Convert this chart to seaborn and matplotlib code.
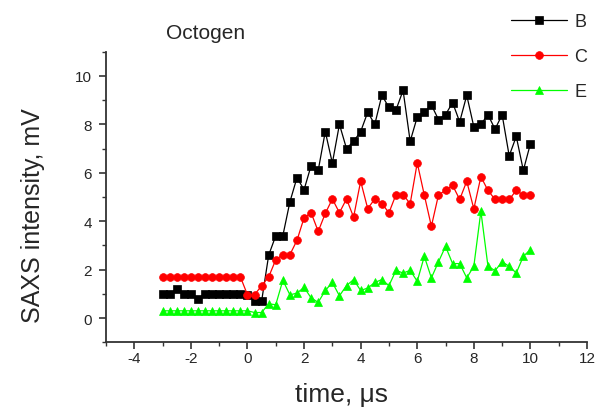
import matplotlib
matplotlib.use("Agg")
import matplotlib.pyplot as plt
import seaborn as sns
import pandas as pd
from matplotlib.ticker import MultipleLocator

time_us = [-3.0, -2.75, -2.5, -2.25, -2.0, -1.75, -1.5, -1.25, -1.0, -0.75, -0.5, -0.25,
           0.0, 0.25, 0.5, 0.75, 1.0, 1.25, 1.5, 1.75, 2.0, 2.25, 2.5, 2.75, 3.0,
           3.25, 3.5, 3.75, 4.0, 4.25, 4.5, 4.75, 5.0, 5.25, 5.5, 5.75, 6.0,
           6.25, 6.5, 6.75, 7.0, 7.25, 7.5, 7.75, 8.0, 8.25, 8.5, 8.75, 9.0,
           9.25, 9.5, 9.75, 10.0]

series_B = [1.0, 1.0, 1.2, 1.0, 1.0, 0.8, 1.0, 1.0, 1.0, 1.0, 1.0, 1.0,
            0.95, 0.7, 0.7, 2.6, 3.4, 3.4, 4.8, 5.8, 5.3, 6.3, 6.1, 7.7, 6.4,
            8.0, 7.0, 7.3, 7.7, 8.5, 8.0, 9.2, 8.7, 8.6, 9.4, 7.3, 8.3,
            8.5, 8.8, 8.2, 8.4, 8.9, 8.1, 9.2, 7.9, 8.0, 8.4, 7.8, 8.4,
            6.7, 7.5, 6.1, 7.2]

series_C = [1.7, 1.7, 1.7, 1.7, 1.7, 1.7, 1.7, 1.7, 1.7, 1.7, 1.7, 1.7,
            0.96, 0.96, 1.34, 1.70, 2.41, 2.62, 2.62, 3.21, 4.14, 4.35, 3.58, 4.32, 4.92,
            4.35, 4.92, 4.17, 5.65, 4.52, 4.92, 4.73, 4.35, 5.10, 5.10, 4.72, 6.41,
            5.08, 3.79, 5.08, 5.28, 5.48, 4.90, 5.65, 4.51, 5.84, 5.27, 4.90, 4.90,
            4.90, 5.27, 5.08, 5.08]

series_E = [0.3, 0.3, 0.3, 0.3, 0.3, 0.3, 0.3, 0.3, 0.3, 0.3, 0.3, 0.3,
            0.3, 0.23, 0.23, 0.59, 0.55, 1.56, 0.96, 1.03, 1.27, 0.83, 0.65, 1.14, 1.47,
            0.92, 1.34, 1.59, 1.14, 1.24, 1.47, 1.59, 1.34, 1.97, 1.86, 1.97, 1.52,
            2.55, 1.66, 2.32, 2.96, 2.25, 2.25, 1.66, 2.14, 4.41, 2.14, 1.96, 2.32,
            2.14, 1.86, 2.55, 2.83]

series_names = ["B", "C", "E"]
title_text = "Octogen"
x_label = "time, \u03bcs"
y_label = "SAXS intensity, mV"

sns.set_style("ticks")
plt.rcParams["font.family"] = ["Liberation Sans", "DejaVu Sans"]
plt.rcParams["axes.unicode_minus"] = False

fig = plt.figure(figsize=(5.97, 4.14), dpi=100)
ax = fig.add_axes([106 / 597, 1 - 343.3 / 414, (587 - 106) / 597, (343.3 - 52.7) / 414])

styles = [
    dict(color="black", marker="s", markersize=5.2),
    dict(color="#ff0000", marker="o", markersize=5.6),
    dict(color="#00ff00", marker="^", markersize=6.2),
]
for name, vals, st in zip(series_names, [series_B, series_C, series_E], styles):
    df = pd.DataFrame({"time": time_us, "val": vals})
    sns.lineplot(data=df, x="time", y="val", ax=ax, color=st["color"], marker=st["marker"],
                 markersize=st["markersize"], markeredgecolor=st["color"], markeredgewidth=0.5,
                 linewidth=0.9, estimator=None, sort=False, label=name)

ax.set_xlim(-5, 12)
ax.set_ylim(-1, 11)
ax.xaxis.set_minor_locator(MultipleLocator(1))
ax.yaxis.set_minor_locator(MultipleLocator(1))
ax.set_xticks([-4, -2, 0, 2, 4, 6, 8, 10, 12])
ax.set_yticks([0, 2, 4, 6, 8, 10])

for s in ["top", "right"]:
    ax.spines[s].set_visible(False)
for s in ["left", "bottom"]:
    ax.spines[s].set_color("#333333")
    ax.spines[s].set_linewidth(1.3)
ax.tick_params(which="major", length=5, width=1.2, color="#333333", labelsize=11)
ax.tick_params(axis="x", which="major", pad=1.5)
ax.tick_params(axis="y", which="major", pad=5)
ax.tick_params(which="minor", length=3, width=1.0, color="#333333")

ax.set_xlabel(x_label, fontsize=19)
ax.set_ylabel(y_label, fontsize=18)
ax.xaxis.set_label_coords(0.489, -0.135)
ax.yaxis.set_label_coords(-0.152, 0.44)
ax.yaxis.label.set_va("center")

fig.text(166 / 597, 1 - 39 / 414, title_text, fontsize=15, va="baseline", ha="left")

leg = ax.legend(loc="upper left", bbox_to_anchor=(511 / 597, 1 - 14 / 414),
                bbox_transform=fig.transFigure, frameon=False, fontsize=13,
                handlelength=3.1, handletextpad=0.4, labelspacing=1.0,
                borderpad=0, borderaxespad=0)

fig.savefig("out.png", dpi=100)
